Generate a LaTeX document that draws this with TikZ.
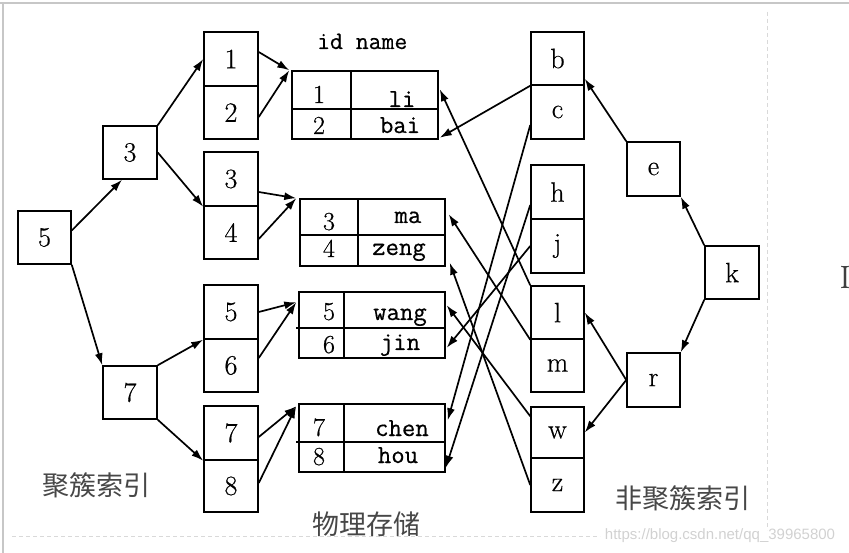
\documentclass[tikz,border=0pt]{standalone}
\usepackage{fontspec}
\newfontfamily\cjk{Noto Sans CJK SC}
\newfontfamily\wmfont{Liberation Sans}
\newfontfamily\boxrm{Latin Modern Roman}[FakeBold=0.5]
\newfontfamily\tblmono{Latin Modern Mono}[FakeBold=0.5]
\usetikzlibrary{arrows.meta,calc}
\begin{document}
\begin{tikzpicture}[x=1pt,y=-1pt,
  box/.style={draw, line width=1.5pt, inner sep=0pt, minimum width=54pt, minimum height=54pt, font=\boxrm\fontsize{28}{32}\selectfont},
  tbl/.style={draw, line width=1.5pt, inner sep=0pt},
  tline/.style={line width=1.5pt},
  numtxt/.style={anchor=base, inner sep=0pt, font=\boxrm\fontsize{26}{30}\selectfont},
  nmtxt/.style={anchor=base, inner sep=0pt, font=\tblmono\fontsize{26}{30}\selectfont},
  arr/.style={-{Latex[length=12pt,width=8pt]}, line width=1.7pt},
  captxt/.style={inner sep=0pt, text=black!72, font=\cjk\fontsize{27}{30}\selectfont},
  bframe/.style={line width=1.5pt, draw=black!22},
  dframe/.style={line width=1pt, draw=black!15, dash pattern=on 4pt off 3pt}
]
\useasboundingbox (0,0) rectangle (849,553);
% frame
\draw[bframe] (0,3) -- (849,3);
\draw[bframe] (3,3) -- (3,553);
\draw[dframe] (12,536) -- (600,536);
\draw[dframe] (767,12) -- (767,530);

% clustered index tree
\node[box, minimum width=53pt, minimum height=53pt] (n5) at (44.5,237.5) {5};
\node[box, minimum height=53pt] (n3) at (130,152.5) {3};
\node[box, minimum height=53pt] (n7) at (130,392.5) {7};
\node[box] (L1) at (231,59) {1};
\node[box, minimum height=53pt] (L2) at (231,112.5) {2};
\node[box] (L3) at (231,179) {3};
\node[box, minimum height=53pt] (L4) at (231,232.5) {4};
\node[box] (L5) at (231,312) {5};
\node[box, minimum height=53pt] (L6) at (231,365.5) {6};
\node[box] (L7) at (231,433) {7};
\node[box, minimum height=52pt] (L8) at (231,486) {8};

% tables
\node[anchor=base west, inner sep=0pt, font=\tblmono\fontsize{25}{30}\selectfont] (hdr) at (317,49) {id name};
\node[tbl, minimum width=146pt, minimum height=68pt] (t1) at (365,105) {};
\draw[tline] (351,71) -- (351,139);
\draw[tline] (292,109) -- (438,109);
\node[numtxt] (t1a) at (319,103) {1};
\node[nmtxt] (t1b) at (402,107) {li};
\node[numtxt] (t1c) at (319,134) {2};
\node[nmtxt] (t1d) at (400,133) {bai};

\node[tbl, minimum width=145pt, minimum height=67pt] (t2) at (372.5,232.5) {};
\draw[tline] (358,199) -- (358,266);
\draw[tline] (300,235) -- (445,235);
\node[numtxt] (t2a) at (329,230) {3};
\node[nmtxt] (t2b) at (408,223) {ma};
\node[numtxt] (t2c) at (329,257) {4};
\node[nmtxt] (t2d) at (399,255) {zeng};

\node[tbl, minimum width=146pt, minimum height=66pt] (t3) at (372,325) {};
\draw[tline] (344,292) -- (344,358);
\draw[tline] (296,328) -- (445,328);
\node[numtxt] (t3a) at (329,320) {5};
\node[nmtxt] (t3b) at (400,320) {wang};
\node[numtxt] (t3c) at (329,353) {6};
\node[nmtxt] (t3d) at (400,350) {jin};

\node[tbl, minimum width=146pt, minimum height=68pt] (t4) at (372,438) {};
\draw[tline] (344,404) -- (344,472);
\draw[tline] (296,442) -- (445,442);
\node[numtxt] (t4a) at (319,436) {7};
\node[nmtxt] (t4b) at (402,436) {chen};
\node[numtxt] (t4c) at (319,465) {8};
\node[nmtxt] (t4d) at (398,463) {hou};

% non-clustered index tree
\node[box, minimum width=53pt, minimum height=53pt] (b) at (557.5,58.5) {b};
\node[box, minimum width=53pt] (c) at (557.5,112) {c};
\node[box, minimum width=53pt] (h) at (557.5,192) {h};
\node[box, minimum width=53pt] (j) at (557.5,246) {j};
\node[box, minimum width=53pt, minimum height=53pt] (l) at (557.5,312.5) {l};
\node[box, minimum width=53pt, minimum height=53pt] (m) at (557.5,365.5) {m};
\node[box, minimum width=53pt, minimum height=51pt] (w) at (557.5,432.5) {w};
\node[box, minimum width=53pt] (z) at (557.5,485) {z};
\node[box, minimum width=53pt] (e) at (653.5,169) {e};
\node[box, minimum height=53pt] (k) at (732,272.5) {k};
\node[box, minimum width=53pt] (r) at (653.5,380) {r};

% captions
\node[captxt] (cap1) at (96,485) {聚簇索引};
\node[captxt] (cap2) at (366,524) {物理存储};
\node[captxt] (cap3) at (683,498) {非聚簇索引};
\node[inner sep=0pt, text=black!18, font=\wmfont\fontsize{15}{18}\selectfont] (wm) at (720,536) {https://blog.csdn.net/qq\_39965800};
\node[inner sep=0pt, text=black!75, font=\boxrm\fontsize{32}{34}\selectfont] (cur) at (845,277) {I};

% clustered arrows
\draw[arr] ([yshift=7pt]n5.east) -- ([xshift=-8pt]n3.south);
\draw[arr] (n5.south east) -- (n7.north west);
\draw[arr] (n3.north east) -- (L1.west);
\draw[arr] (n3.east) -- (L3.south west);
\draw[arr] (n7.north east) -- (L5.south west);
\draw[arr] (n7.south east) -- (L7.south west);
\draw[arr] ([yshift=7pt]L1.east) -- ([xshift=-2pt]t1.north west);
\draw[arr] ([yshift=-4.5pt]L2.east) -- ([xshift=-2pt]t1.north west);
\draw[arr] ([yshift=-13pt]L3.east) -- ([xshift=-3pt]t2.north west);
\draw[arr] ([yshift=-6.5pt]L4.east) -- ([xshift=-3pt]t2.north west);
\draw[arr] (L5.east) -- ([xshift=-2pt,yshift=-11pt]t3.north west);
\draw[arr] ([yshift=7.5pt]L6.east) -- ([xshift=-2pt,yshift=-11pt]t3.north west);
\draw[arr] ([yshift=-4pt]L7.east) -- ([xshift=-2pt,yshift=-3pt]t4.north west);
\draw[arr] ([yshift=3pt]L8.east) -- ([xshift=-2pt,yshift=-3pt]t4.north west);

% non-clustered arrows
\draw[arr] (k.north west) -- (e.south east);
\draw[arr] (k.south west) -- (r.north east);
\draw[arr] (e.north west) -- ([yshift=7pt]b.south east);
\draw[arr] (r.west) -- (l.east);
\draw[arr] (r.west) -- (w.east);
\draw[arr] (b.south west) -- ([xshift=1pt,yshift=2pt]t1.south east);
\draw[arr] ([yshift=-13pt]c.west) -- ([xshift=2pt,yshift=-17pt]t4.north east);
\draw[arr] ([yshift=-13pt]h.west) -- ([yshift=5pt]t4.south east);
\draw[arr] (j.west) -- ([xshift=1pt,yshift=11pt]t3.south east);
\draw[arr] (l.north west) -- ([xshift=1pt,yshift=-19pt]t1.north east);
\draw[arr] (l.south west) -- ([xshift=3pt,yshift=-16pt]t2.north east);
\draw[arr] ([yshift=-10pt]w.north west) -- ([xshift=1pt,yshift=-14pt]t3.north east);
\draw[arr] (z.west) -- ([xshift=4pt,yshift=4pt]t2.south east);
\end{tikzpicture}
\end{document}
